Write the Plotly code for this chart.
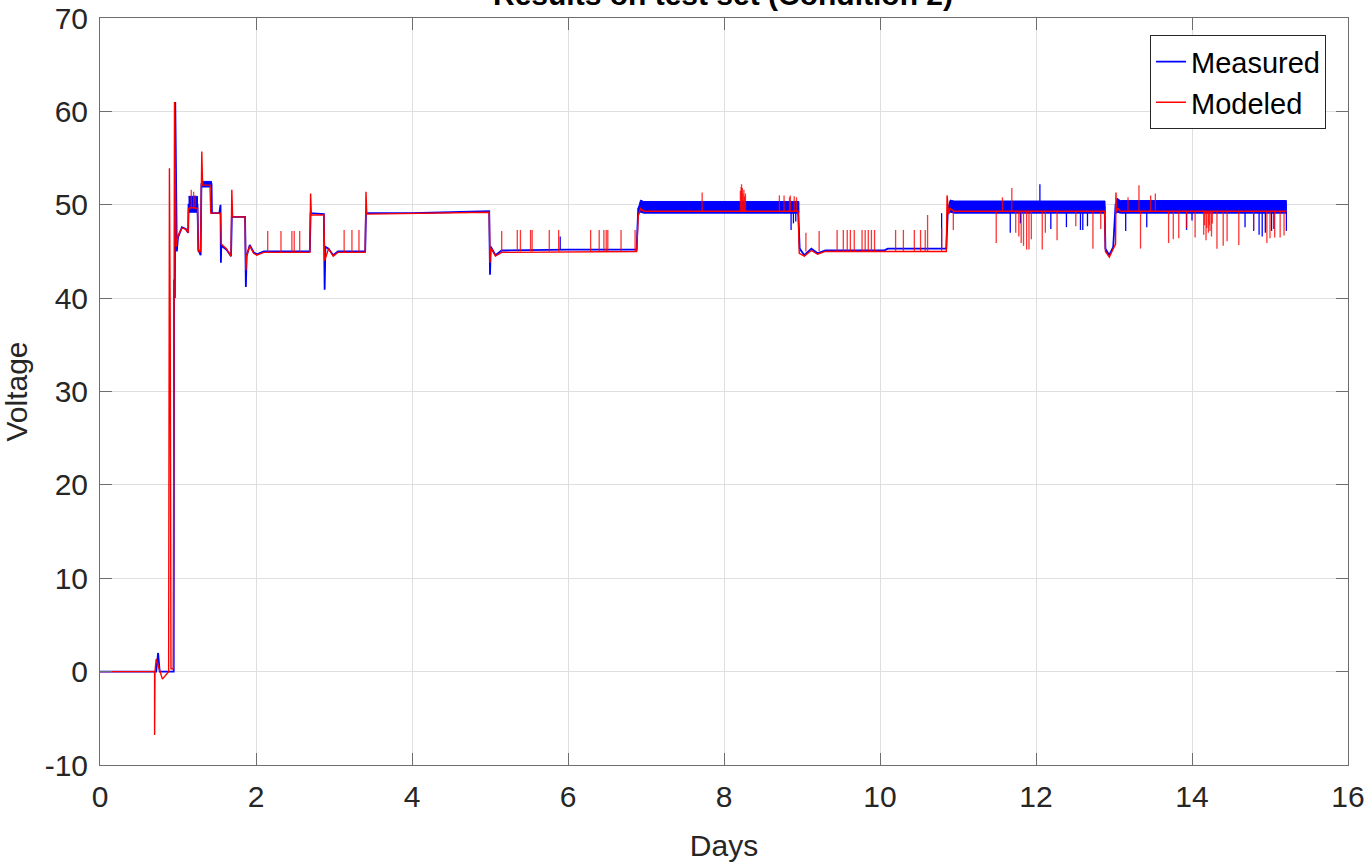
import plotly.graph_objects as go

# ---- Measured voltage: main path (days, volts) ----
meas_days = [0, 0.72, 0.745, 0.765, 0.945, 0.95, 0.96, 0.965, 0.985, 1.0, 1.05, 1.10, 1.13,
             1.135, 1.25, 1.26, 1.29, 1.30, 1.43, 1.435, 1.53, 1.545, 1.55, 1.555, 1.62, 1.68,
             1.69, 1.86, 1.87, 1.88, 1.92, 1.97, 2.01, 2.10, 2.69, 2.70, 2.87, 2.88, 2.89, 2.93,
             2.99, 3.05, 3.40, 3.41, 4.00, 4.99, 5.00, 5.01, 5.07, 5.15, 6.00, 6.88, 6.90, 6.95,
             8.95, 8.97, 9.03, 9.12, 9.20, 9.30, 10.05, 10.10, 10.85, 10.87, 10.90, 12.88, 12.89,
             12.94, 12.99, 13.02, 15.21]
meas_volts = [0, 0, 2.0, 0, 0, 42.0, 40.0, 61.0, 45.0, 46.5, 47.6, 47.4, 47.0,
              50.0, 50.0, 45.2, 44.6, 52.2, 52.2, 49.1, 49.1, 50.0, 43.8, 45.6, 45.2, 44.5,
              48.7, 48.7, 41.2, 44.5, 45.7, 44.9, 44.7, 45.0, 45.0, 49.1, 49.0, 40.9, 45.5, 45.3,
              44.6, 45.0, 45.0, 49.1, 49.1, 49.3, 42.5, 45.5, 44.6, 45.1, 45.2, 45.2, 49.6, 50.0,
              49.8, 45.3, 44.6, 45.3, 44.8, 45.1, 45.1, 45.3, 45.3, 49.5, 50.0, 49.8, 45.3,
              44.6, 45.5, 50.0, 49.8]

# Noise envelope of the measured signal on its high-voltage plateaus
band_days = [1.135, 1.25, None, 1.30, 1.43, None, 6.90, 6.93, 6.97, 8.96, None,
             10.87, 10.90, 10.95, 12.885, None, 13.02, 13.04, 13.08, 15.21]
band_hi = [50.9, 50.9, None, 52.5, 52.5, None, 49.6, 50.5, 50.35, 50.35, None,
           49.6, 50.5, 50.4, 50.4, None, 49.8, 50.7, 50.45, 50.45]
band_lo = [49.2, 49.2, None, 51.9, 51.9, None, 49.0, 49.2, 49.1, 49.1, None,
           49.0, 49.2, 49.1, 49.1, None, 49.0, 49.2, 49.1, 49.1]

# Isolated spikes of the measured signal
meas_spike_days = [5.90, 10.79, 8.86, 8.89, 8.92, 11.67, 11.80, 12.05, 12.19, 12.39, 12.57,
                   12.60, 12.66, 13.15, 13.42, 13.93, 14.00, 14.68, 14.79, 14.86, 14.90,
                   14.94, 15.02, 15.05, 15.21]
meas_spike_from = [45.2, 45.3, 49.2, 49.2, 49.2, 49.2, 49.2, 50.4, 49.2, 49.2, 49.2,
                   49.2, 49.2, 49.2, 49.2, 49.2, 49.2, 49.2, 49.2, 49.2, 49.2,
                   49.2, 49.2, 49.2, 49.2]
meas_spike_to = [46.6, 49.1, 47.3, 48.0, 48.2, 47.0, 48.0, 52.2, 47.4, 47.6, 47.3,
                 47.3, 47.7, 47.2, 47.6, 47.3, 48.3, 47.6, 47.2, 46.8, 46.6,
                 47.0, 47.2, 47.4, 47.2]

# ---- Modeled voltage: main path ----
model_days = [0, 0.70, 0.70, 0.705, 0.72, 0.80, 0.88, 0.89, 0.90, 0.91, 0.94, 0.955, 0.975,
              1.0, 1.05, 1.10, 1.13, 1.135, 1.17, 1.25, 1.26, 1.29, 1.305, 1.315, 1.41, 1.42,
              1.545, 1.555, 1.62, 1.68, 1.69, 1.70, 1.86, 1.87, 1.88, 1.92, 1.97, 2.01, 2.10,
              2.69, 2.70, 2.71, 2.87, 2.88, 2.93, 2.99, 3.05, 3.40, 3.41, 3.42, 4.99, 5.00,
              5.01, 5.07, 5.15, 6.88, 6.90, 6.93, 6.97, 8.95, 8.965, 9.03, 9.12, 9.20, 9.30,
              10.85, 10.86, 10.88, 10.90, 10.95, 12.88, 12.89, 12.94, 12.99, 13.02, 13.025,
              13.03, 13.05, 13.08, 15.21]
model_volts = [0, 0, -6.8, 0, 1.35, -0.8, 0, 53.9, 38.0, 0.3, 0.3, 61.0, 45.5,
               46.7, 47.5, 47.4, 47.0, 49.6, 49.7, 49.6, 45.0, 45.0, 55.7, 52.1, 52.1, 49.1,
               49.1, 45.8, 45.3, 44.5, 51.6, 48.7, 48.7, 43.0, 44.5, 45.6, 44.8, 44.6, 44.9,
               44.9, 51.2, 48.9, 48.9, 44.0, 45.3, 44.5, 44.9, 44.9, 51.4, 49.0, 49.2, 43.8,
               45.4, 44.5, 44.9, 45.0, 48.8, 49.6, 49.3, 49.3, 44.8, 44.5, 45.1, 44.7, 45.0,
               45.0, 51.0, 49.0, 49.6, 49.3, 49.3, 45.0, 44.4, 45.3, 45.8, 51.3,
               49.3, 49.6, 49.3, 49.3]

# Isolated spikes of the modeled signal
model_spike_days = [1.17, 1.20, 1.22,
                    2.15, 2.32, 2.46, 2.49, 2.56, 3.13, 3.23, 3.32,
                    5.15, 5.35, 5.39, 5.52, 5.54, 5.76, 5.88, 6.29, 6.40, 6.46, 6.49, 6.51, 6.68, 6.86,
                    7.72, 8.21, 8.22, 8.225, 8.235, 8.245, 8.255, 8.265, 8.275, 8.71, 8.77, 8.84,
                    8.85, 8.90, 8.93,
                    9.05, 9.22, 9.45, 9.53, 9.58, 9.62, 9.67, 9.77, 9.81, 9.85, 9.89, 9.93, 10.20,
                    10.30, 10.44, 10.52, 10.58, 10.61, 10.79,
                    10.94, 11.49, 11.74, 11.78, 11.81, 11.84, 11.88, 11.91, 11.94, 12.08, 12.12,
                    12.27, 12.51, 12.73, 12.83, 11.57, 11.69,
                    13.34, 13.70, 13.76, 13.83, 13.93, 14.04, 14.15, 14.16, 14.18, 14.19, 14.21,
                    14.22, 14.23, 14.25, 14.26, 14.32, 14.40, 14.45, 14.60, 14.79, 14.96, 15.00,
                    15.06, 15.13, 15.18, 13.18, 13.32, 13.47, 13.53]
model_spike_from = [49.6, 49.6, 49.6,
                    44.9, 44.9, 44.9, 44.9, 44.9, 44.9, 44.9, 44.9,
                    45.0, 45.0, 45.0, 45.0, 45.0, 45.0, 45.0, 45.0, 45.0, 45.0, 45.0, 45.0, 45.0, 45.0,
                    49.3, 49.3, 49.3, 49.3, 49.3, 49.3, 49.3, 49.3, 49.3, 49.3, 49.3, 49.3,
                    49.3, 49.3, 49.3,
                    45.0, 45.0, 45.0, 45.0, 45.0, 45.0, 45.0, 45.0, 45.0, 45.0, 45.0, 45.0, 45.0,
                    45.0, 45.0, 45.0, 45.0, 45.0, 45.0,
                    49.3, 49.3, 49.3, 49.3, 49.3, 49.3, 49.3, 49.3, 49.3, 49.3, 49.3,
                    49.3, 49.3, 49.3, 49.3, 49.3, 49.3,
                    49.3, 49.3, 49.3, 49.3, 49.3, 49.3, 49.3, 49.3, 49.3, 49.3, 49.3,
                    49.3, 49.3, 49.3, 49.3, 49.3, 49.3, 49.3, 49.3, 49.3, 49.3, 49.3,
                    49.3, 49.3, 49.3, 49.3, 49.3, 49.3, 49.3]
model_spike_to = [51.6, 51.4, 51.0,
                  47.2, 47.2, 47.2, 47.2, 47.2, 47.3, 47.3, 47.3,
                  47.2, 47.3, 47.3, 47.3, 47.3, 47.3, 47.3, 47.3, 47.3, 47.3, 47.3, 47.3, 47.3, 47.3,
                  51.3, 51.5, 51.9, 52.2, 51.8, 51.2, 51.6, 50.9, 51.2, 51.0, 51.0, 50.8,
                  51.0, 50.9, 50.8,
                  47.0, 47.2, 47.3, 47.3, 47.3, 47.3, 47.3, 47.3, 47.3, 47.3, 47.3, 47.3, 47.3,
                  47.3, 47.3, 47.3, 47.3, 48.9, 47.5,
                  47.3, 45.9, 47.0, 46.6, 45.9, 45.6, 45.2, 45.2, 46.3, 45.2, 47.0,
                  46.2, 47.7, 45.3, 47.4, 50.8, 51.8,
                  45.3, 45.9, 46.3, 46.4, 47.5, 46.5, 46.8, 47.8, 46.2, 47.5, 47.0,
                  47.8, 47.2, 46.6, 48.0, 45.3, 45.6, 46.1, 45.7, 47.3, 45.9, 46.4,
                  46.5, 46.5, 46.7, 50.8, 52.1, 51.0, 51.2]

x_tick_vals = [0, 2, 4, 6, 8, 10, 12, 14, 16]
y_tick_vals = [-10, 0, 10, 20, 30, 40, 50, 60, 70]
y_tick_text = ["-10", "0", "10", "20", "30", "40", "50", "60", "70"]

BLUE = "rgb(0,0,255)"
RED = "rgb(255,0,0)"
INK = "rgb(38,38,38)"
FRAME = "rgb(110,110,110)"
GRID = "rgb(223,223,223)"
FONT_SIZE = 30


def spike_segments(days, starts, ends):
    xs, ys = [], []
    for d, a, b in zip(days, starts, ends):
        xs += [d, d, None]
        ys += [a, b, None]
    return xs, ys


def band_polygons(days, hi, lo):
    xs, ys = [], []
    seg_x, seg_hi, seg_lo = [], [], []
    for d, h, l in list(zip(days, hi, lo)) + [(None, None, None)]:
        if d is None:
            if seg_x:
                xs += seg_x + seg_x[::-1] + [None]
                ys += seg_hi + seg_lo[::-1] + [None]
            seg_x, seg_hi, seg_lo = [], [], []
        else:
            seg_x.append(d)
            seg_hi.append(h)
            seg_lo.append(l)
    return xs, ys


fig = go.Figure()

bx, by = band_polygons(band_days, band_hi, band_lo)
fig.add_trace(go.Scatter(x=bx, y=by, mode="lines", fill="toself", fillcolor=BLUE,
                         line=dict(color=BLUE, width=1), showlegend=False, hoverinfo="skip"))
fig.add_trace(go.Scatter(x=meas_days, y=meas_volts, mode="lines", name="Measured",
                         line=dict(color=BLUE, width=1.8)))
sx, sy = spike_segments(meas_spike_days, meas_spike_from, meas_spike_to)
fig.add_trace(go.Scatter(x=sx, y=sy, mode="lines", line=dict(color=BLUE, width=1.3),
                         showlegend=False, hoverinfo="skip"))

fig.add_trace(go.Scatter(x=model_days, y=model_volts, mode="lines", name="Modeled",
                         line=dict(color=RED, width=1.4)))
rx, ry = spike_segments(model_spike_days, model_spike_from, model_spike_to)
fig.add_trace(go.Scatter(x=rx, y=ry, mode="lines", line=dict(color="rgba(255,0,0,0.8)", width=1.3),
                         showlegend=False, hoverinfo="skip"))

axis_common = dict(showgrid=True, gridcolor=GRID, gridwidth=1, zeroline=False,
                   showline=True, linecolor=FRAME, linewidth=1, mirror="ticks",
                   ticks="inside", ticklen=12, tickcolor=FRAME, tickwidth=1,
                   automargin=False, tickfont=dict(size=FONT_SIZE, color=INK))

fig.update_layout(
    width=1370, height=864,
    margin=dict(l=100, r=22, t=18, b=99),
    paper_bgcolor="white", plot_bgcolor="white",
    font=dict(family="Liberation Sans, Arial, sans-serif", size=FONT_SIZE, color=INK),
    xaxis=dict(range=[0, 16], tickvals=x_tick_vals, ticklabelstandoff=5,
               title=dict(text="Days", standoff=22, font=dict(size=FONT_SIZE, color=INK)),
               **axis_common),
    yaxis=dict(range=[-10, 70], tickvals=y_tick_vals, ticktext=y_tick_text,
               ticklabelstandoff=5,
               title=dict(text="Voltage", standoff=12, font=dict(size=FONT_SIZE, color=INK)),
               **axis_common),
    legend=dict(x=0.9824, y=0.977, xanchor="right", yanchor="top",
                bgcolor="white", bordercolor=INK, borderwidth=1,
                font=dict(size=FONT_SIZE - 1, color="black"), tracegroupgap=0),
    showlegend=True,
)

# Chart title sits just above the axes box
fig.add_annotation(text="<b>Results on test set (Condition 2)</b>", xref="paper", yref="paper",
                   x=0.4995, y=1.031, xanchor="center", yanchor="middle", showarrow=False,
                   font=dict(size=FONT_SIZE, color="black"))

fig.write_html("out.html")
